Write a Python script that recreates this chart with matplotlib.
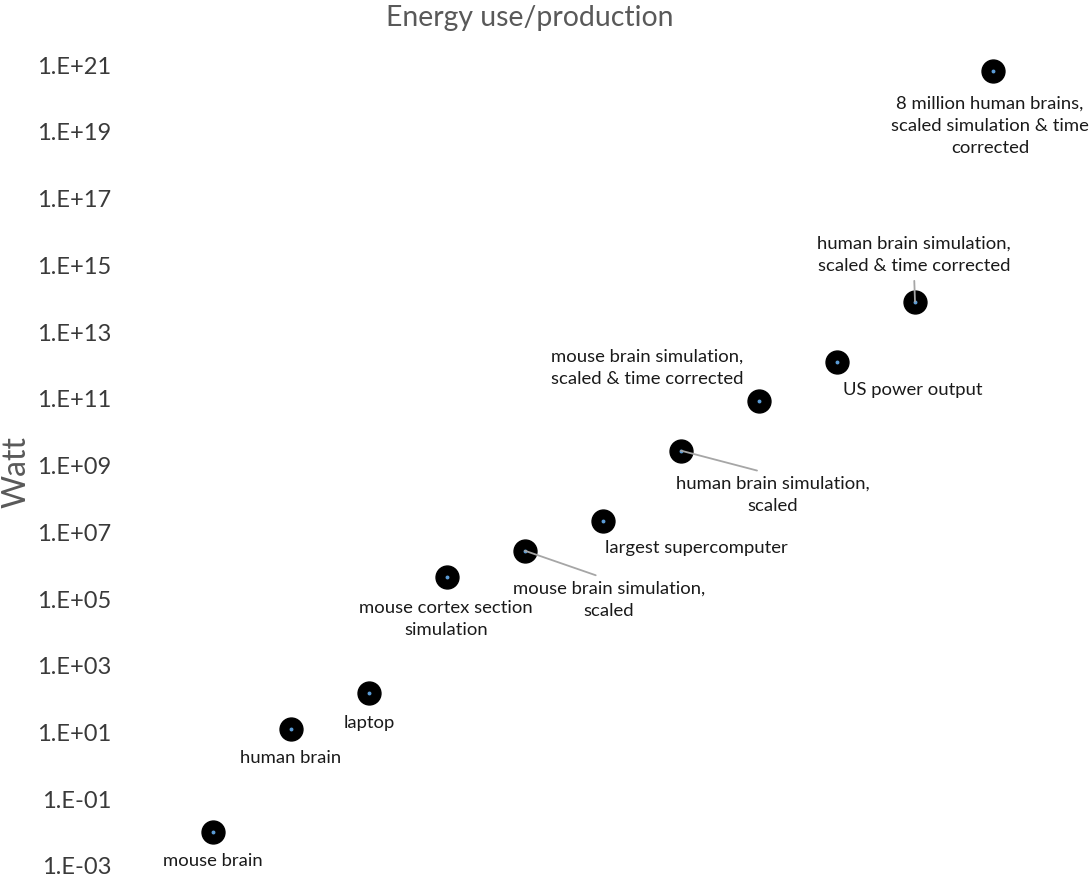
import matplotlib
matplotlib.use("Agg")
import matplotlib.pyplot as plt
import numpy as np
from matplotlib.ticker import FixedLocator, FuncFormatter

plt.rcParams['font.family'] = ['Lato', 'DejaVu Sans']

# Data (Watt)
labels = [
    "mouse brain",
    "human brain",
    "laptop",
    "mouse cortex section\nsimulation",
    "mouse brain simulation,\nscaled",
    "largest supercomputer",
    "human brain simulation,\nscaled",
    "mouse brain simulation,\nscaled & time corrected",
    "US power output",
    "human brain simulation,\nscaled & time corrected",
    "8 million human brains,\nscaled simulation & time\ncorrected",
]
watts = [1.0e-2, 1.2e1, 1.4e2, 4.3e5, 2.6e6, 2.1e7, 2.6e9, 8.0e10, 1.15e12, 7.6e13, 6.3e20]
xpos = np.arange(1, len(watts) + 1)

# label offsets in pixels from the point (centre of text), and leader-line flag
offsets = [(0, -28), (0, -28), (0, -29), (-1, -41), (84, -48), (93, -26),
           (92, -43), (-112, 34), (76, -27), (-1, 48), (-3, -54)]
leaders = [False, False, False, False, True, False, True, False, False, True, False]

fig = plt.figure(figsize=(10.92, 8.78), dpi=100)
ax = fig.add_axes([135 / 1092, 12 / 878, 936 / 1092, 0.9503])

ax.set_yscale('log')
ax.set_xlim(0, 12)
ax.set_ylim(1e-3, 1e22)

ax.plot(xpos, watts, 'o', color='black', markersize=16.5, zorder=3)
ax.plot(xpos, watts, 'o', color='#5b9bd5', markersize=1.8, zorder=4)

for x, w, lab, off, lead in zip(xpos, watts, labels, offsets, leaders):
    if lead:
        relpos = (0.5, 0.0) if off[1] > 0 else (0.5, 1.0)
        ax.annotate(lab, (x, w), xytext=off, textcoords='offset pixels',
                    ha='center', va='center', fontsize=13.3, color='#1a1a1a',
                    linespacing=1.45, zorder=5,
                    arrowprops=dict(arrowstyle='-', color='#a6a6a6', lw=1.3,
                                    shrinkA=4, shrinkB=0, relpos=relpos))
    else:
        ax.annotate(lab, (x, w), xytext=off, textcoords='offset pixels',
                    ha='center', va='center', fontsize=13.3, color='#1a1a1a',
                    linespacing=1.45, zorder=5)

yticks = [10.0 ** e for e in range(-3, 22, 2)]
ax.yaxis.set_major_locator(FixedLocator(yticks))
ax.yaxis.set_minor_locator(FixedLocator([]))
ax.yaxis.set_major_formatter(FuncFormatter(
    lambda v, p: "1.E{:+03d}".format(int(round(np.log10(v))))))
ax.tick_params(axis='y', length=0, pad=17, labelsize=17, labelcolor='#3a3a3a')
ax.set_xticks([])
for s in ax.spines.values():
    s.set_visible(False)

fig.text(530 / 1092, 1 - 18 / 878, "Energy use/production", ha='center', va='center',
         fontsize=20.4, color='#595959')
fig.text(16 / 1092, 1 - 472 / 878, "Watt", ha='center', va='center', rotation=90,
         fontsize=23, color='#595959')

fig.savefig("out.png", dpi=100)
